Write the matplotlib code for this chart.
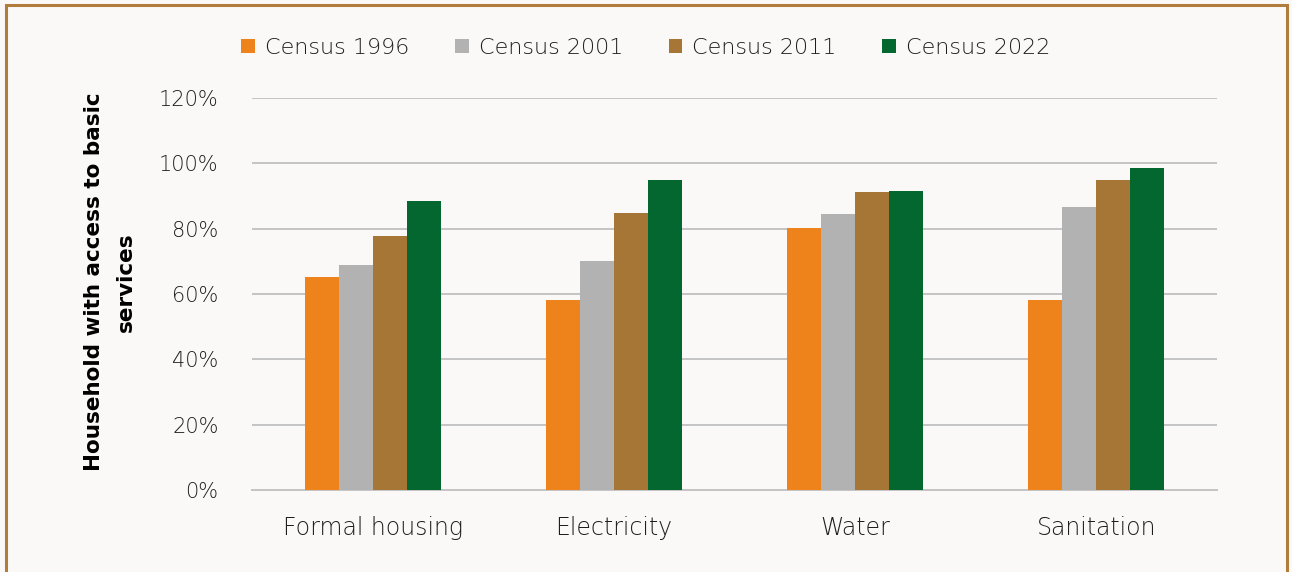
import numpy as np
import matplotlib.pyplot as plt
from matplotlib.patches import Rectangle
from matplotlib.ticker import FuncFormatter

# Household access to basic services by census year
categories = ['Formal housing', 'Electricity', 'Water', 'Sanitation']
series_names = ['Census 1996', 'Census 2001', 'Census 2011', 'Census 2022']
census_1996 = [65.2, 58.2, 80.3, 58.1]
census_2001 = [68.9, 70.2, 84.5, 86.5]
census_2011 = [77.7, 84.8, 91.2, 94.9]
census_2022 = [88.6, 94.8, 91.4, 98.5]
yticks = [0, 20, 40, 60, 80, 100, 120]

colors = ['#ef831b', '#b2b2b2', '#a67637', '#04672f']
series = [census_1996, census_2001, census_2011, census_2022]

plt.rcParams['font.family'] = ['DejaVu Sans']
text_col = '#1e1e1e'

fig = plt.figure(figsize=(12.92, 5.72), dpi=100, facecolor='#fbf9f8')
ax = fig.add_axes([0.195, 0.1434, 0.747, 0.6853])
ax.set_facecolor('none')

x = np.arange(len(categories))
bar_w = 0.141
for i, (name, vals) in enumerate(zip(series_names, series)):
    ax.bar(x + (i - 1.5) * bar_w, vals, width=bar_w, color=colors[i],
           label=name, zorder=3)

ax.set_xlim(-0.5, len(categories) - 0.5)
ax.set_ylim(0, 120)
ax.set_yticks(yticks)
ax.yaxis.set_major_formatter(FuncFormatter(lambda v, p: f'{v:.0f}%'))
ax.set_xticks(x)
ax.set_xticklabels(categories)
ax.grid(axis='y', color='#c4c4c4', linewidth=1.4, zorder=0)
for s in ['top', 'right', 'left']:
    ax.spines[s].set_visible(False)
ax.spines['bottom'].set_color('#c4c4c4')
ax.spines['bottom'].set_linewidth(1.4)
ax.tick_params(axis='both', length=0, colors=text_col)
ax.tick_params(axis='y', pad=24, labelsize=15)
ax.tick_params(axis='x', pad=19, labelsize=17)
for lab in ax.get_xticklabels() + ax.get_yticklabels():
    lab.set_fontweight(200)

fig.text(110 / 1292, 1 - 282 / 572, 'Household with access to basic\nservices',
         rotation=90, ha='center', va='center', fontsize=15.5,
         fontweight='bold', color='black', linespacing=1.75)

leg = fig.legend(loc='center', bbox_to_anchor=(0.5, 0.916), ncol=4,
                 frameon=False, fontsize=16, handlelength=0.62,
                 handleheight=0.62, handletextpad=0.45, columnspacing=2.05)
for t in leg.get_texts():
    t.set_fontweight(200)
    t.set_color(text_col)

# thin brown frame around the chart
fig.patches.append(Rectangle((6 / 1292, -0.05), 1281 / 1292, 1.05 - 5 / 572,
                             transform=fig.transFigure, fill=False,
                             edgecolor='#b07d3d', linewidth=2.2))

fig.savefig('out.png', dpi=100, facecolor=fig.get_facecolor())
